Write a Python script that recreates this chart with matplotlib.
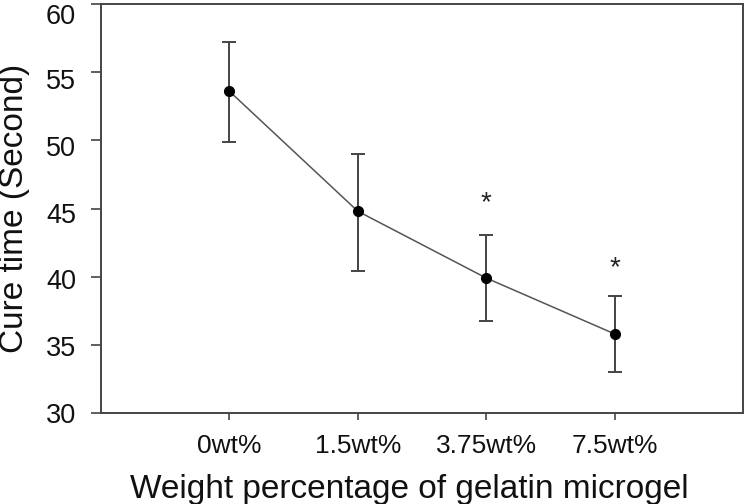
import matplotlib.pyplot as plt
import matplotlib.transforms as mtransforms
import numpy as np

plt.rcParams['font.family'] = ['Liberation Sans', 'DejaVu Sans']

# values
labels = ['0wt%', '1.5wt%', '3.75wt%', '7.5wt%']
cure_time = [53.6, 44.8, 39.9, 35.8]
err_upper = [57.2, 49.0, 43.05, 38.55]
err_lower = [49.9, 40.4, 36.75, 33.0]
significant = [False, False, True, True]
star_y = [None, None, 45.4, 40.6]

x = np.arange(1, len(labels) + 1)
mean = np.array(cure_time)
yerr = [mean - np.array(err_lower), np.array(err_upper) - mean]

fig = plt.figure(figsize=(7.46, 5.04), dpi=100)
ax = fig.add_axes([0.1354, 0.1806, 0.8606, 0.8114])

ax.errorbar(x, mean, yerr=yerr, color='#555555', lw=1.1, ecolor='#444444',
            elinewidth=1.4, capsize=4.8, capthick=1.4,
            marker='o', ms=7, mfc='black', mec='black', zorder=3)

for xi, sig, sy in zip(x, significant, star_y):
    if sig:
        ax.text(xi, sy, '*', ha='center', va='center', fontsize=20, color='#222222')

ax.set_xlim(0, 5)
ax.set_ylim(30, 60)
ax.set_xticks(x)
ax.set_xticklabels(labels)
yticks = np.arange(30, 61, 5)
ax.set_yticks(yticks)

for sp in ax.spines.values():
    sp.set_color('#444444')
    sp.set_linewidth(1.4)

ax.tick_params(axis='y', direction='out', length=7, width=1.2, color='#444444',
               labelsize=19.5, pad=11, labelcolor='#111111')
ax.tick_params(axis='x', direction='out', length=5, width=1.2, color='#444444',
               labelsize=19, pad=10, labelcolor='#111111')

# in the original the upper y labels drift a few px below their ticks
for v, lab in zip(yticks, ax.get_yticklabels()):
    dy = -(v - 30) / 30 * 6 / 72
    lab.set_transform(lab.get_transform() + mtransforms.ScaledTranslation(0, dy, fig.dpi_scale_trans))
ax.get_yticklabels()[-1].set_va('top')
ax.get_yticklabels()[-1].set_transform(ax.get_yaxis_transform(which='tick1')
                                       + mtransforms.ScaledTranslation(-18 / 72, 0, fig.dpi_scale_trans))

ax.set_xlabel('Weight percentage of gelatin microgel', fontsize=24, color='#111111')
ax.set_ylabel('Cure time (Second)', fontsize=24, color='#111111')
ax.xaxis.set_label_coords(0.48, -0.186)
ax.xaxis.label.set_va('center')
ax.yaxis.set_label_coords(-0.134, 0.5)
ax.yaxis.label.set_va('center')

fig.savefig('out.png', dpi=100)
